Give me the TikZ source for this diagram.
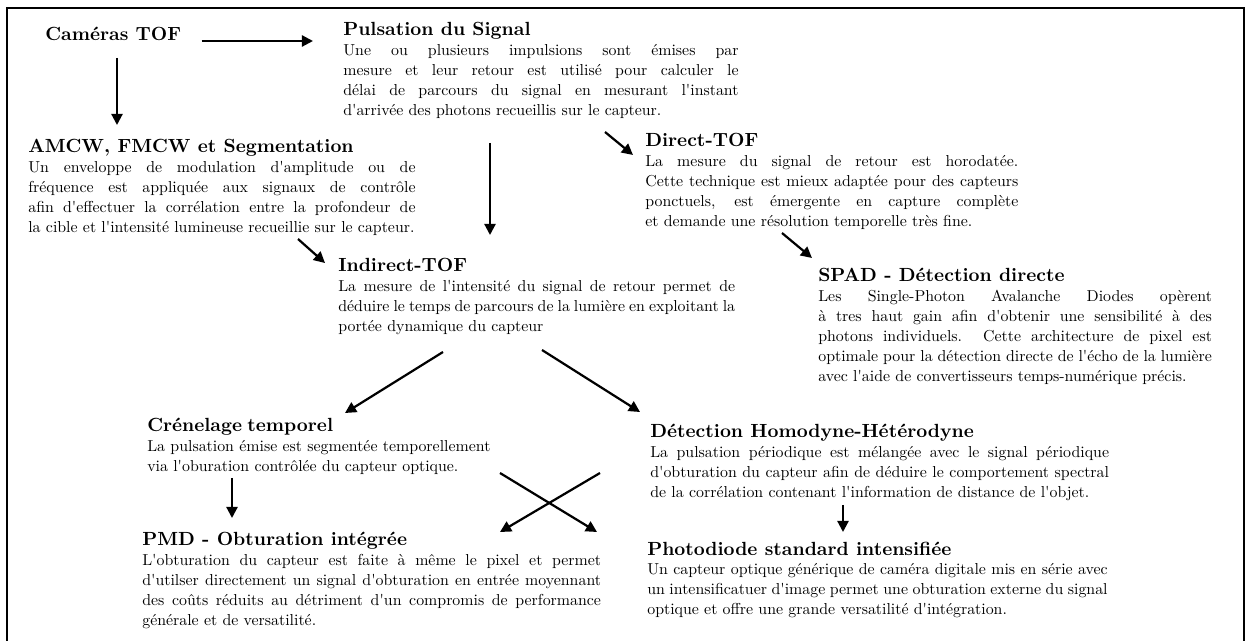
\documentclass[tikz,border=0pt]{standalone}
\usepackage{fontspec}
\setmainfont{lmroman10-regular.otf}[BoldFont=lmroman10-bold.otf, Ligatures=TeXOff]
\usetikzlibrary{arrows.meta}

\newcommand{\entete}[1]{{\fontsize{12}{14}\selectfont\bfseries #1}}
\tikzset{
  titre/.style={font=\fontsize{12}{14}\selectfont\bfseries, inner sep=0pt, anchor=base west},
  bloc/.style={font=\fontsize{10}{12.6}\selectfont, inner sep=0pt, anchor=base west, align=justify},
  fleche/.style={-{Triangle[length=7pt,width=7pt]}, line width=1.4pt},
}

\begin{document}
\begin{tikzpicture}[x=0.63pt,y=-0.63pt]
\useasboundingbox (0,0) rectangle (1248,641);
\draw[line width=1.2pt] (7,641) -- (7,8) -- (1244,8) -- (1244,641);

% blocs de texte
\node[titre] (tof) at (45,41) {Caméras TOF};

\node[bloc, text width=249pt] (pulse) at (343,36) {\entete{Pulsation du Signal}\\
Une ou plusieurs impulsions sont émises par\linebreak
mesure et leur retour est utilisé pour calculer le\linebreak
délai de parcours du signal en mesurant l'instant\linebreak
d'arrivée des photons recueillis sur le capteur.\parfillskip=0pt};

\node[bloc, text width=244pt] (amcw) at (28,153) {\entete{AMCW, FMCW et Segmentation}\\
Un enveloppe de modulation d'amplitude ou de\linebreak
fréquence est appliquée aux signaux de contrôle\linebreak
afin d'effectuer la corrélation entre la profondeur de\linebreak
la cible et l'intensité lumineuse recueillie sur le capteur.\parfillskip=0pt};

\node[bloc, text width=235pt] (direct) at (645,147) {\entete{Direct-TOF}\\
La mesure du signal de retour est horodatée.\linebreak
Cette technique est mieux adaptée pour des capteurs\linebreak
ponctuels, est émergente en capture complète\linebreak
et demande une résolution temporelle très fine.};

\node[bloc, text width=250pt] (indirect) at (338,272) {\entete{Indirect-TOF}\\
La mesure de l'intensité du signal de retour permet de\linebreak
déduire le temps de parcours de la lumière en exploitant la\linebreak
portée dynamique du capteur};

\node[bloc, text width=248pt] (spad) at (818,282) {\entete{SPAD - Détection directe}\\
Les Single-Photon Avalanche Diodes opèrent\linebreak
à tres haut gain afin d'obtenir une sensibilité à des\linebreak
photons individuels. Cette architecture de pixel est\linebreak
optimale pour la détection directe de l'écho de la lumière\linebreak
avec l'aide de convertisseurs temps-numérique précis.\parfillskip=0pt};

\node[bloc, text width=230pt, align=left] (creneau) at (147,432) {\entete{Crénelage temporel}\\
La pulsation émise est segmentée temporellement\\
via l'oburation contrôlée du capteur optique.};

\node[bloc, text width=289pt] (homodyne) at (650,438) {\entete{Détection Homodyne-Hétérodyne}\\
La pulsation périodique est mélangée avec le signal périodique\linebreak
d'obturation du capteur afin de déduire le comportement spectral\linebreak
de la corrélation contenant l'information de distance de l'objet.};

\node[bloc, text width=289pt] (pmd) at (142,546) {\entete{PMD - Obturation intégrée}\\
L'obturation du capteur est faite à même le pixel et permet\linebreak
d'utilser directement un signal d'obturation en entrée moyennant\linebreak
des coûts réduits au détriment d'un compromis de performance\linebreak
générale et de versatilité.};

\node[bloc, text width=290pt] (photodiode) at (647,555) {\entete{Photodiode standard intensifiée}\\
Un capteur optique générique de caméra digitale mis en série avec\linebreak
un intensificatuer d'image permet une obturation externe du signal\linebreak
optique et offre une grande versatilité d'intégration.};

% fleches
\draw[fleche] ([shift={(20,0)}]tof.base east) -- ([shift={(-30,5)}]pulse.base west);
\draw[fleche] ([shift={(72,17)}]tof.base west) -- ([shift={(89,-28)}]amcw.base west);
\draw[fleche] ([shift={(147,107)}]pulse.base west) -- ([shift={(152,-37)}]indirect.base west);
\draw[fleche] ([shift={(262,96)}]pulse.base west) -- ([shift={(-12,8)}]direct.base west);
\draw[fleche] ([shift={(270,86)}]amcw.base west) -- ([shift={(-13,-9)}]indirect.base west);
\draw[fleche] ([shift={(137,86)}]direct.base west) -- ([shift={(-6,-24)}]spad.base west);
\draw[fleche] ([shift={(105,80)}]indirect.base west) -- ([shift={(198,-19)}]creneau.base west);
\draw[fleche] ([shift={(204,78)}]indirect.base west) -- ([shift={(-10,-26)}]homodyne.base west);
\draw[fleche] ([shift={(85,46)}]creneau.base west) -- ([shift={(90,-28)}]pmd.base west);
\draw[fleche] ([shift={(353,41)}]creneau.base west) -- ([shift={(-50,-23)}]photodiode.base west);
\draw[fleche] ([shift={(-50,35)}]homodyne.base west) -- ([shift={(358,-14)}]pmd.base west);
\draw[fleche] ([shift={(193,67)}]homodyne.base west) -- ([shift={(196,-23)}]photodiode.base west);
\end{tikzpicture}
\end{document}
